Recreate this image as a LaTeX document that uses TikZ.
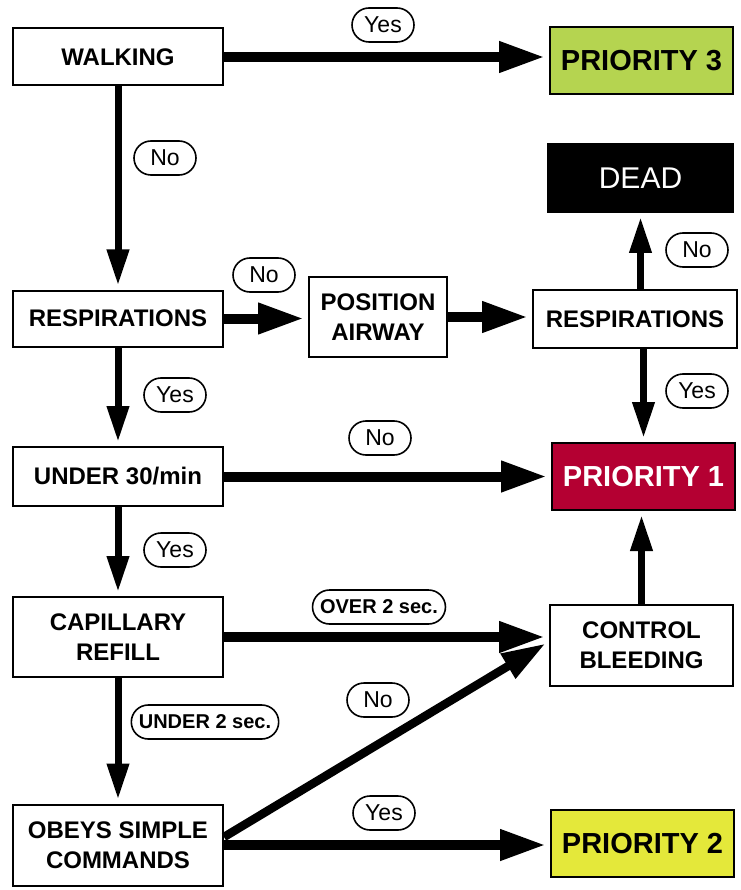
\documentclass[tikz,border=0pt]{standalone}
\usepackage{fontspec}
\setmainfont{Liberation Sans}
\usetikzlibrary{arrows.meta,shapes.misc}
\definecolor{pthree}{RGB}{181,212,80}
\definecolor{ptwo}{RGB}{228,232,58}
\definecolor{pone}{RGB}{180,0,50}
\tikzset{
  box/.style={draw, line width=2pt, fill=white, align=center, inner sep=0pt,
    font=\fontsize{24}{30}\selectfont\bfseries},
  prio/.style={draw, line width=2pt, align=center, inner sep=0pt,
    minimum width=183pt, minimum height=67pt,
    font=\fontsize{29}{34}\selectfont\bfseries},
  pill/.style={draw, line width=1.6pt, fill=white, rounded rectangle,
    minimum width=68pt, minimum height=34pt, inner sep=3pt,
    font=\fontsize{23}{26}\selectfont},
  bpill/.style={pill, minimum height=34pt, inner sep=6pt,
    font=\fontsize{20}{24}\selectfont\bfseries},
  harrow/.style={line width=10pt, -{Triangle[length=46pt,width=29pt]}, shorten >=4pt},
  varrow/.style={line width=7pt, -{Triangle[length=36pt,width=21pt]}, shorten >=4pt},
  darrow/.style={line width=8.5pt, -{Triangle[length=44pt,width=27pt]}, shorten >=4pt},
}
\begin{document}
\begin{tikzpicture}[x=1pt,y=-1pt]
\useasboundingbox (0,0) rectangle (740,890);
\fill[white] (0,0) rectangle (740,890);

% left column
\node[box, minimum width=210pt, minimum height=57pt] (walk) at (118,57) {WALKING};
\node[box, minimum width=210pt, minimum height=56pt] (resp) at (118,318.5) {RESPIRATIONS};
\node[box, minimum width=210pt, minimum height=59pt] (under) at (118,476.5) {UNDER 30/min};
\node[box, minimum width=210pt, minimum height=80pt] (cap) at (118,637) {CAPILLARY\\REFILL};
\node[box, minimum width=210pt, minimum height=81pt] (obeys) at (118,845) {OBEYS SIMPLE\\COMMANDS};

% middle
\node[box, minimum width=138pt, minimum height=80pt] (pos) at (378,317) {POSITION\\AIRWAY};

% right column
\node[box, minimum width=204pt, minimum height=58pt] (respR) at (635,319) {RESPIRATIONS};
\node[prio, fill=pthree] (p3) at (641.5,61) {PRIORITY 3};
\node[draw, line width=2pt, fill=black, text=white, inner sep=0pt,
  minimum width=185pt, minimum height=68pt,
  font=\fontsize{30}{34}\selectfont] (dead) at (640.5,178) {DEAD};
\node[prio, fill=pone, text=white] (p1) at (643.5,476.5) {PRIORITY 1};
\node[box, minimum width=183pt, minimum height=81pt] (ctrl) at (641.5,645.5) {CONTROL\\BLEEDING};
\node[prio, fill=ptwo] (p2) at (642.5,843.5) {PRIORITY 2};

% arrows
\draw[harrow] (walk.east) -- (walk.east -| p3.west);
\draw[harrow] (resp.east) -- (resp.east -| pos.west);
\draw[harrow] (pos.east) -- (pos.east -| respR.west);
\draw[harrow] (under.east) -- (under.east -| p1.west);
\draw[harrow] (cap.east) -- (cap.east -| ctrl.west);
\draw[harrow] (obeys.east) -- (obeys.east -| p2.west);
\draw[darrow] ([yshift=8pt]obeys.east) -- ([yshift=4pt]ctrl.west);

\draw[varrow] (walk.south) -- (resp.north);
\draw[varrow] (resp.south) -- (under.north);
\draw[varrow] (under.south) -- (cap.north);
\draw[varrow] (cap.south) -- (obeys.north);
\draw[varrow] (dead.south |- respR.north) -- (dead.south);
\draw[varrow] (p1.north |- respR.south) -- (p1.north);
\draw[varrow] (ctrl.north) -- (ctrl.north |- p1.south);

% labels
\node[pill] (l1) at (383,25) {Yes};
\node[pill] (l2) at (165,158) {No};
\node[pill] (l3) at (264,275) {No};
\node[pill] (l4) at (697,250) {No};
\node[pill] (l5) at (697,391) {Yes};
\node[pill] (l6) at (175,395) {Yes};
\node[pill] (l7) at (380,438) {No};
\node[pill] (l8) at (175,550) {Yes};
\node[bpill] (l9) at (379,607) {OVER 2 sec.};
\node[bpill] (l10) at (205,722) {UNDER 2 sec.};
\node[pill] (l11) at (378,700) {No};
\node[pill] (l12) at (384,813) {Yes};
\end{tikzpicture}
\end{document}
